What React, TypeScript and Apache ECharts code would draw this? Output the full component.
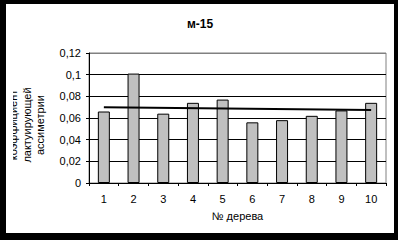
import React, { useEffect, useRef } from "react";
import * as echarts from "echarts";

const categories = ["1", "2", "3", "4", "5", "6", "7", "8", "9", "10"];
const values = [0.066, 0.101, 0.064, 0.074, 0.077, 0.056, 0.058, 0.062, 0.067, 0.074];
const trendValues: (number | null)[] = [0.07, null, null, null, null, null, null, null, null, 0.0673];
const titleText = "м-15";
const xAxisTitle = "№ дерева";
const yAxisTitleLines = ["коэффициент", "лактуирующей", "ассиметрии"];

const FONT = "'Liberation Sans', Arial, sans-serif";

export default function App() {
  const ref = useRef<HTMLDivElement>(null);
  useEffect(() => {
    if (!ref.current) return;
    const chart = echarts.init(ref.current, undefined, { renderer: "svg" });
    const lineX = [7, 21, 34];
    chart.setOption({
      animation: false,
      backgroundColor: "#ffffff",
      title: {
        text: titleText,
        left: "center",
        top: 9,
        textStyle: { fontFamily: FONT, fontSize: 12, fontWeight: "bold", color: "#000" },
      },
      grid: {
        left: 83,
        right: 8,
        top: 49,
        bottom: 50,
        show: true,
        borderColor: "#808080",
        borderWidth: 1,
        backgroundColor: "transparent",
      },
      xAxis: {
        type: "category",
        data: categories,
        boundaryGap: true,
        name: xAxisTitle,
        nameLocation: "middle",
        nameGap: 27,
        nameTextStyle: { fontFamily: FONT, fontSize: 11, color: "#000" },
        axisLine: { lineStyle: { color: "#000", width: 1 } },
        axisTick: { show: true, length: 3, inside: false, lineStyle: { color: "#000" } },
        axisLabel: { fontFamily: FONT, fontSize: 11, color: "#000", margin: 10 },
        splitLine: { show: false },
      },
      yAxis: {
        type: "value",
        min: 0,
        max: 0.12,
        interval: 0.02,
        axisLine: { show: true, lineStyle: { color: "#000", width: 1 } },
        axisTick: { show: true, length: 3, inside: false, lineStyle: { color: "#000" } },
        axisLabel: {
          fontFamily: FONT,
          fontSize: 11,
          color: "#000",
          margin: 8,
          formatter: (v: number) => String(parseFloat(v.toFixed(2))).replace(".", ","),
        },
        splitLine: {
          show: true,
          lineStyle: { color: ["#000", "#000", "#000", "#000", "#000", "#000", "#808080"], width: 1 },
        },
      },
      series: [
        {
          type: "bar",
          data: values,
          barWidth: 12,
          itemStyle: { color: "#c0c0c0", borderColor: "#000", borderWidth: 1 },
          z: 2,
        },
        {
          type: "line",
          data: trendValues,
          connectNulls: true,
          showSymbol: false,
          symbol: "none",
          lineStyle: { color: "#000", width: 2 },
          z: 3,
        },
      ],
      graphic: [
        ...yAxisTitleLines.map((t, i) => ({
          type: "text",
          x: lineX[i],
          y: 121,
          rotation: Math.PI / 2,
          style: {
            text: t,
            fontFamily: FONT,
            fontSize: 11,
            fill: "#000",
            textAlign: "center",
            textVerticalAlign: "middle",
          },
        })),
        {
          type: "rect",
          shape: { x: 0, y: 60, width: 7, height: 120 },
          style: { fill: "#ffffff" },
          z: 100,
        },
      ],
    });
    return () => chart.dispose();
  }, []);
  return (
    <div style={{ position: "fixed", left: 0, top: 0, width: 398, height: 240, background: "#000" }}>
      <div ref={ref} style={{ position: "absolute", left: 6, top: 4, width: 388, height: 229 }} />
    </div>
  );
}
